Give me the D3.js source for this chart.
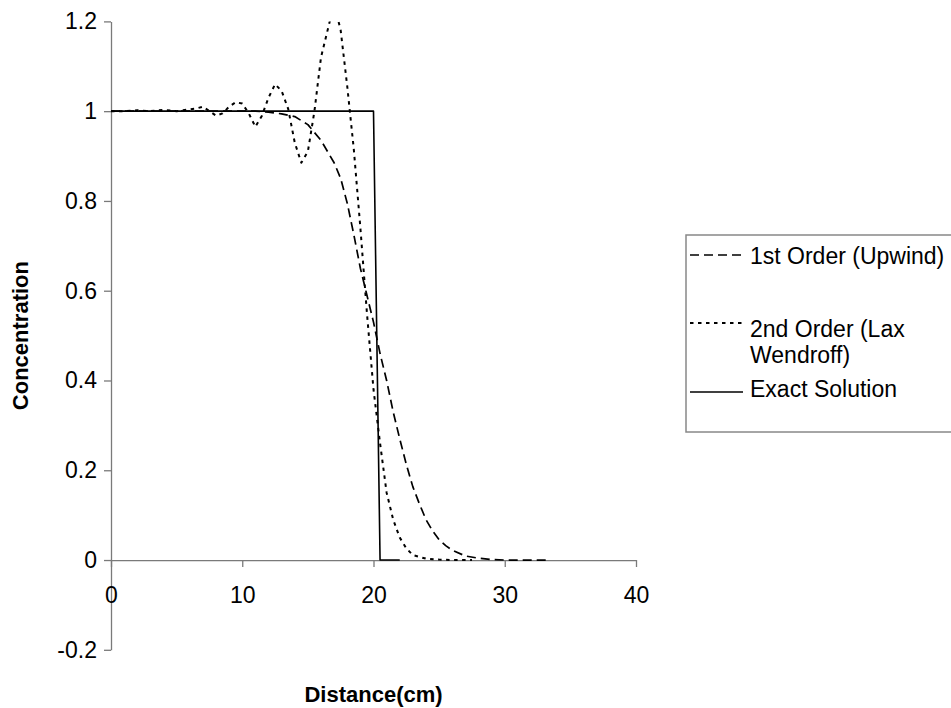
<!DOCTYPE html>
<html>
<head>
<meta charset="utf-8">
<script src="https://cdn.jsdelivr.net/npm/d3@7"></script>
<style>
  html, body { margin: 0; padding: 0; background: #fff; }
  svg { display: block; font-family: "Liberation Sans", Arial, sans-serif; }
</style>
</head>
<body>
<svg id="chart" width="951" height="708"></svg>
<script>
// Concentration profiles: upwind vs Lax-Wendroff vs exact step
const upwindX = [0, 2, 4, 6, 8, 10, 11, 12, 13, 14, 15, 16, 17, 17.5, 18, 18.5, 19, 19.5, 20, 20.5, 21, 21.5, 22, 22.5, 23, 23.5, 24, 24.5, 25, 25.5, 26, 27, 28, 29, 30, 31, 32, 33, 33.5];
const upwindY = [1, 1, 1, 1, 1, 1, 1, 0.998, 0.994, 0.988, 0.97, 0.935, 0.885, 0.85, 0.795, 0.725, 0.65, 0.59, 0.53, 0.46, 0.4, 0.33, 0.27, 0.213, 0.163, 0.125, 0.09, 0.065, 0.045, 0.032, 0.022, 0.009, 0.004, 0.001, 0, 0, 0, 0, 0];

const laxX = [0, 1, 2, 3, 4, 5, 6, 6.5, 7, 7.5, 8, 8.5, 9, 9.5, 10, 10.5, 11, 11.5, 12, 12.5, 13, 13.5, 14, 14.5, 15, 15.5, 16, 16.5, 17, 17.5, 18, 18.5, 19, 19.5, 20, 20.5, 21, 21.5, 22, 22.5, 23, 24, 25, 26, 27, 27.5];
const laxY = [1, 1, 1.002, 1, 1.003, 1, 1.004, 1.006, 1.01, 1.0, 0.99, 0.995, 1.01, 1.02, 1.017, 0.995, 0.965, 0.99, 1.03, 1.06, 1.045, 1.005, 0.93, 0.885, 0.91, 1.0, 1.12, 1.18, 1.24, 1.18, 1.055, 0.915, 0.74, 0.55, 0.38, 0.26, 0.15, 0.09, 0.05, 0.026, 0.011, 0.003, 0.001, 0, 0, 0];

const exactX = [0, 20, 20.5, 22];
const exactY = [1, 1, 0, 0];

const xTicks = [0, 10, 20, 30, 40];
const yTicks = [-0.2, 0, 0.2, 0.4, 0.6, 0.8, 1, 1.2];

const seriesNames = ["1st Order (Upwind)", ["2nd Order (Lax", "Wendroff)"], "Exact Solution"];

const svg = d3.select("#chart");
const plot = { left: 111, right: 636, top: 21.4, bottom: 649.8 };

const x = d3.scaleLinear().domain([0, 40]).range([plot.left, plot.right]);
const y = d3.scaleLinear().domain([-0.2, 1.2]).range([plot.bottom, plot.top]);

const axisColor = "#7a7a7a";
const fontSize = 23;

// clip region for the plotted curves
svg.append("defs").append("clipPath").attr("id", "plotClip")
  .append("rect")
  .attr("x", plot.left).attr("y", plot.top)
  .attr("width", plot.right - plot.left).attr("height", plot.bottom - plot.top);

// y axis (plain hyphen for negatives)
const yAxis = svg.append("g")
  .attr("transform", `translate(${plot.left},0)`)
  .call(d3.axisLeft(y).tickValues(yTicks)
    .tickFormat(d => String(+d.toFixed(1)))
    .tickSize(7).tickSizeOuter(0).tickPadding(7));

// x axis on the zero line
const xAxis = svg.append("g")
  .attr("transform", `translate(0,${y(0)})`)
  .call(d3.axisBottom(x).tickValues(xTicks).tickFormat(d => String(d))
    .tickSize(7).tickSizeOuter(0).tickPadding(20));

[yAxis, xAxis].forEach(g => {
  g.select(".domain").attr("stroke", axisColor).attr("stroke-width", 1.3);
  g.selectAll(".tick line").attr("stroke", axisColor).attr("stroke-width", 1.3);
  g.selectAll(".tick text").attr("fill", "#000").attr("font-size", fontSize)
    .attr("font-family", "'Liberation Sans', Arial, sans-serif");
});

// axis titles
svg.append("text")
  .attr("transform", `translate(28,${(plot.top + plot.bottom) / 2}) rotate(-90)`)
  .attr("text-anchor", "middle")
  .attr("font-size", 22).attr("font-weight", "bold")
  .text("Concentration");

svg.append("text")
  .attr("x", (plot.left + plot.right) / 2).attr("y", 702)
  .attr("text-anchor", "middle")
  .attr("font-size", 22).attr("font-weight", "bold")
  .text("Distance(cm)");

// curve styles
const styles = [
  { dash: "9,5", width: 1.7 },
  { dash: "3.5,4.5", width: 2 },
  { dash: null, width: 1.6 }
];

const line = d3.line().x(d => x(d[0])).y(d => y(d[1]));
const seriesData = [
  d3.zip(upwindX, upwindY),
  d3.zip(laxX, laxY),
  d3.zip(exactX, exactY)
];

const curves = svg.append("g").attr("clip-path", "url(#plotClip)");
seriesData.forEach((pts, i) => {
  curves.append("path")
    .datum(pts)
    .attr("d", line)
    .attr("fill", "none")
    .attr("stroke", "#000")
    .attr("stroke-width", styles[i].width)
    .attr("stroke-dasharray", styles[i].dash)
    .attr("stroke-linejoin", "round");
});

// legend
const legend = svg.append("g");
legend.append("rect")
  .attr("x", 686).attr("y", 235)
  .attr("width", 300).attr("height", 197)
  .attr("fill", "#fff").attr("stroke", "#888").attr("stroke-width", 1.5);

const keyY = [255, 323, 392];
const textY = [[264], [337, 363], [397]];
seriesNames.forEach((name, i) => {
  legend.append("line")
    .attr("x1", 690).attr("x2", 743)
    .attr("y1", keyY[i]).attr("y2", keyY[i])
    .attr("stroke", "#000")
    .attr("stroke-width", styles[i].width)
    .attr("stroke-dasharray", styles[i].dash);
  const lines = Array.isArray(name) ? name : [name];
  lines.forEach((t, j) => {
    legend.append("text")
      .attr("x", 750).attr("y", textY[i][j])
      .attr("font-size", fontSize)
      .text(t);
  });
});
</script>
</body>
</html>
